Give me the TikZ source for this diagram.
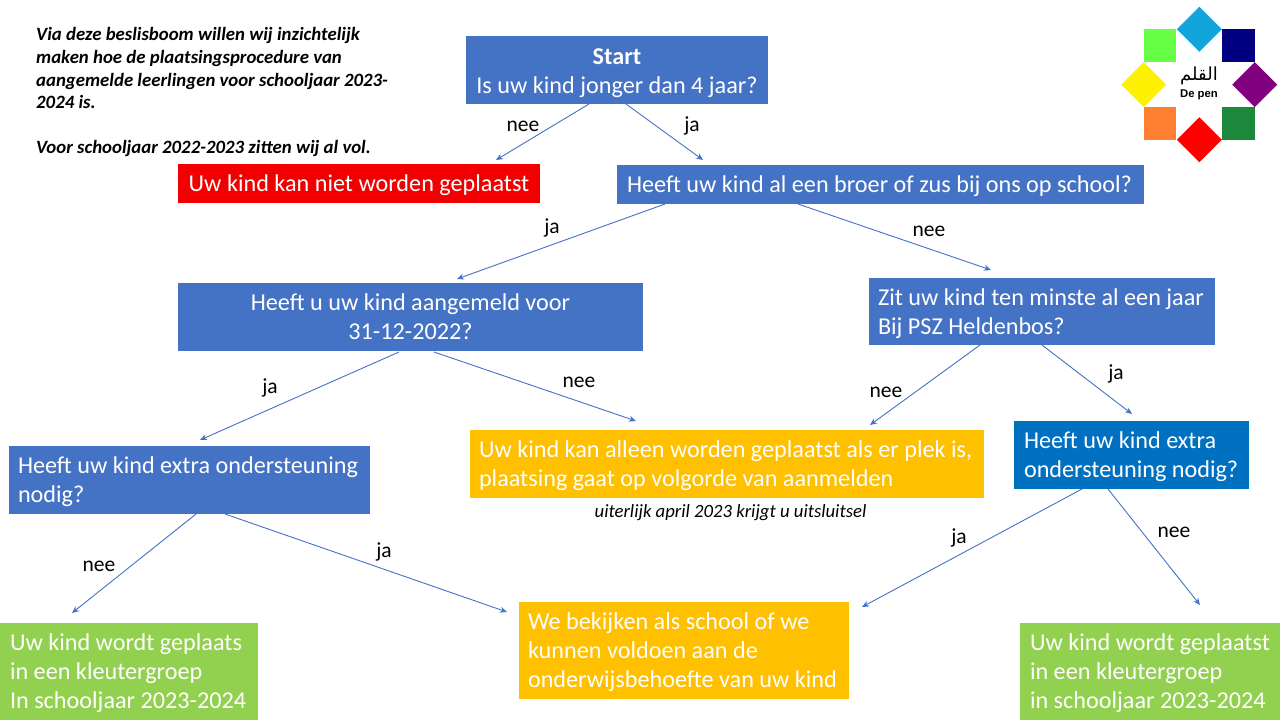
\documentclass[tikz,border=0pt]{standalone}
\usepackage{fontspec}
\setmainfont{Carlito}
\newfontfamily\arabicfont[Script=Arabic]{DejaVu Sans}
\newfontfamily\logofont{Liberation Sans}
\TeXXeTstate=1
\usetikzlibrary{arrows.meta,shapes.geometric}
\definecolor{qblue}{HTML}{4472C4}
\definecolor{qdeep}{HTML}{0070C0}
\definecolor{qred}{HTML}{F00000}
\definecolor{qgold}{HTML}{FFC000}
\definecolor{qgreen}{HTML}{92D050}
\definecolor{logosky}{HTML}{11A5DC}
\tikzset{
  box/.style={inner sep=0pt,outer sep=0pt,text=white,font=\fontsize{24.2}{29}\selectfont,
    execute at begin node=\rule{0pt}{21pt}},
  lbox/.style={box,align=flush left},
  flow/.style={draw=qblue,line width=0.9pt,-{Stealth[length=7pt,width=6pt]}},
  lab/.style={text=black,font=\fontsize{21.5}{25}\selectfont,inner sep=0pt},
  note/.style={text=black,font=\fontsize{18.8}{22.6}\selectfont\bfseries\itshape,align=flush left,anchor=north west,inner sep=0pt},
  dia/.style={diamond,inner sep=0pt,outer sep=0pt,minimum width=45pt,minimum height=45pt,aspect=1},
  sq/.style={inner sep=0pt,outer sep=0pt,minimum width=32.5pt,minimum height=32.5pt},
}
\begin{document}
\begin{tikzpicture}[x=1pt,y=-1pt]
\useasboundingbox (0,0) rectangle (1280,720);
\fill[white] (0,0) rectangle (1280,720);

% notes
\node[note,text width=360pt] (intro) at (36,27.5) {Via deze beslisboom willen wij inzichtelijk\\maken hoe de plaatsingsprocedure van\\aangemelde leerlingen voor schooljaar 2023-\\2024 is.\\[22.6pt]Voor schooljaar 2022-2023 zitten wij al vol.};
\node[text=black,font=\fontsize{18.7}{20}\selectfont\itshape,inner sep=0pt] (deadline) at (730.5,513) {uiterlijk april 2023 krijgt u uitsluitsel};

% boxes
\node[box,fill=qblue,minimum width=302pt,minimum height=68pt,align=center] (start) at (617,70) {\rule{0pt}{23pt}\textbf{Start}\\Is uw kind jonger dan 4 jaar?};
\node[box,fill=qred,minimum width=362pt,minimum height=39pt] (red) at (359,183.5) {Uw kind kan niet worden geplaatst};
\node[box,fill=qblue,minimum width=527pt,minimum height=39pt] (q2) at (880.5,184.5) {\hspace{-2pt}Heeft uw kind al een broer of zus bij ons op school?};
\node[box,fill=qblue,minimum width=465pt,minimum height=68pt,align=center] (q3) at (410.5,317) {Heeft u uw kind aangemeld voor\\31-12-2022?};
\node[lbox,fill=qblue,minimum width=346pt,minimum height=67pt,text width=328pt] (q4) at (1042,311.5) {Zit uw kind ten minste al een jaar\\Bij PSZ Heldenbos?};
\node[lbox,fill=qblue,minimum width=361pt,minimum height=68pt,text width=343pt] (q5) at (189.5,480) {Heeft uw kind extra ondersteuning\\nodig?};
\node[lbox,fill=qgold,minimum width=514pt,minimum height=68pt,text width=496pt] (o1) at (727,464) {Uw kind kan alleen worden geplaatst als er plek is,\\plaatsing gaat op volgorde van aanmelden};
\node[lbox,fill=qdeep,minimum width=235pt,minimum height=68pt,text width=215pt] (q6) at (1131.5,455) {Heeft uw kind extra\\ondersteuning nodig?};
\node[lbox,fill=qgold,minimum width=330pt,minimum height=97pt,text width=312pt] (o2) at (684,650.5) {We bekijken als school of we\\kunnen voldoen aan de\\onderwijsbehoefte van uw kind};
\node[lbox,fill=qgreen,minimum width=258pt,minimum height=97pt,text width=238pt] (g1) at (129,671.5) {Uw kind wordt geplaats\\in een kleutergroep\\In schooljaar 2023-2024};
\node[lbox,fill=qgreen,minimum width=260pt,minimum height=97pt,text width=240pt] (g2) at (1150,671.5) {Uw kind wordt geplaatst\\in een kleutergroep\\in schooljaar 2023-2024};

% connectors
\draw[flow] ([xshift=123pt]start.south west) -- ([xshift=318pt,yshift=4pt]red.north west);
\draw[flow] ([xshift=160pt]start.south west) -- ([xshift=86pt,yshift=5pt]q2.north west);
\draw[flow] ([xshift=48pt]q2.south west) -- ([xshift=279pt,yshift=4pt]q3.north west);
\draw[flow] ([xshift=181pt]q2.south west) -- ([xshift=122pt,yshift=8pt]q4.north west);
\draw[flow] ([xshift=221pt,yshift=-1pt]q3.south west) -- ([xshift=191pt,yshift=6pt]q5.north west);
\draw[flow] ([xshift=256pt,yshift=-1pt]q3.south west) -- ([xshift=166pt,yshift=9pt]o1.north west);
\draw[flow] ([xshift=111pt]q4.south west) -- ([xshift=400pt,yshift=5pt]o1.north west);
\draw[flow] ([xshift=173pt]q4.south west) -- ([xshift=118pt,yshift=7pt]q6.north west);
\draw[flow] ([xshift=187pt]q5.south west) -- ([xshift=72pt,yshift=10pt]g1.north west);
\draw[flow] ([xshift=216pt]q5.south west) -- ([xshift=-12pt,yshift=-10pt]o2.north west);
\draw[flow] ([xshift=68pt]q6.south west) -- ([xshift=343pt,yshift=-5pt]o2.north west);
\draw[flow] ([xshift=94pt]q6.south west) -- ([xshift=180pt,yshift=18pt]g2.north west);

% connector labels
\node[lab] (l1) at (523,126) {nee};
\node[lab] (l2) at (692,126) {ja};
\node[lab] (l3) at (552,228) {ja};
\node[lab] (l4) at (929,231) {nee};
\node[lab] (l5) at (270,388) {ja};
\node[lab] (l6) at (579,382) {nee};
\node[lab] (l7) at (886,392) {nee};
\node[lab] (l8) at (1116,374) {ja};
\node[lab] (l9) at (99,566) {nee};
\node[lab] (l10) at (384,552) {ja};
\node[lab] (l11) at (959,538) {ja};
\node[lab] (l12) at (1174,532) {nee};

% logo
\node[dia,fill=logosky] (dtop) at (1199.3,29.3) {};
\node[dia,fill=yellow] (dleft) at (1143.7,84.7) {};
\node[dia,fill={rgb,255:red,128;green,0;blue,128}] (dright) at (1254.7,84.7) {};
\node[dia,fill=red] (dbot) at (1199.3,139.7) {};
\node[sq,fill={rgb,255:red,102;green,255;blue,68}] (s1) at (1160,45.7) {};
\node[sq,fill={rgb,255:red,0;green,0;blue,128}] (s2) at (1238.5,45.7) {};
\node[sq,fill={rgb,255:red,255;green,128;blue,48}] (s3) at (1160,123.5) {};
\node[sq,fill={rgb,255:red,28;green,136;blue,60}] (s4) at (1238.5,123.5) {};
\node[inner sep=0pt,text=black,font=\fontsize{18}{18}\arabicfont] (logoar) at (1199,76) {\beginR القلم\endR};
\node[inner sep=0pt,text=black,font=\fontsize{11.3}{11}\logofont\bfseries] (logoen) at (1199,95) {De pen};
\end{tikzpicture}
\end{document}
